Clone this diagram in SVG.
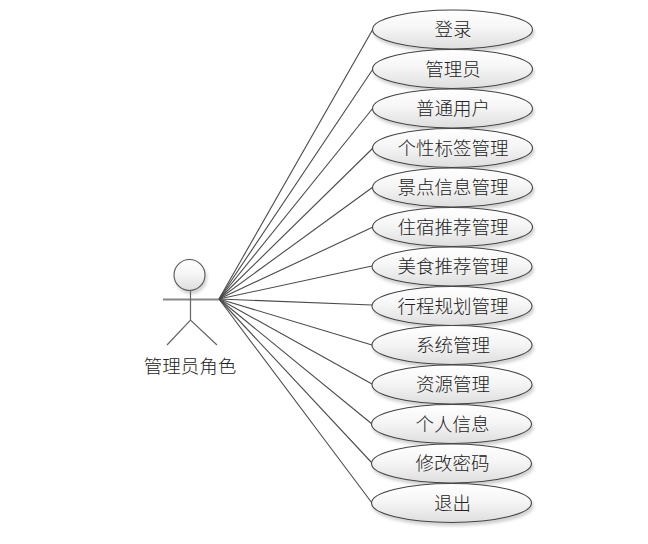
<svg xmlns="http://www.w3.org/2000/svg" width="648" height="544" viewBox="0 0 648 544">
<defs>
<linearGradient id="g" x1="0" y1="0" x2="0" y2="1"><stop offset="0" stop-color="#ffffff"/><stop offset="0.45" stop-color="#f6f6f6"/><stop offset="1" stop-color="#dedede"/></linearGradient>
<filter id="s" x="-10%" y="-20%" width="120%" height="150%"><feDropShadow dx="1.5" dy="3" stdDeviation="1.5" flood-color="#000" flood-opacity="0.18"/></filter>
</defs>
<style>
text{font-family:"Noto Sans CJK SC","Noto Sans CJK JP",sans-serif;font-size:18.5px;font-weight:300;fill:#222;text-anchor:middle}
.u ellipse{fill:url(#g);stroke:#444;stroke-width:1.1;filter:url(#s)}
#connectors line{stroke:#4a4a4a;stroke-width:1.1}
.a{fill:none;stroke:#666;stroke-width:1.2}
</style>
<rect width="648" height="544" fill="#fff"/>
<g id="connectors">
<line x1="219" y1="299" x2="373" y2="29"/>
<line x1="219" y1="299" x2="373" y2="69"/>
<line x1="219" y1="299" x2="373" y2="108"/>
<line x1="219" y1="299" x2="373" y2="148"/>
<line x1="219" y1="299" x2="373" y2="187"/>
<line x1="219" y1="299" x2="373" y2="227"/>
<line x1="219" y1="299" x2="372" y2="266"/>
<line x1="219" y1="299" x2="372" y2="305"/>
<line x1="219" y1="299" x2="372" y2="345"/>
<line x1="219" y1="299" x2="372" y2="384"/>
<line x1="219" y1="299" x2="372" y2="424"/>
<line x1="219" y1="299" x2="372" y2="463"/>
<line x1="219" y1="299" x2="372" y2="503"/>
</g>
<g id="actor">
<circle cx="189.500" cy="275" r="15.500" fill="url(#g)" stroke="#555" stroke-width="1.100" filter="url(#s)"/>
<line x1="163" y1="299.500" x2="219" y2="299.500" stroke="#888" stroke-width="1.800"/>
<path class="a" d="M190.500 291V320M167 345L190.500 320L217 345"/>
<text x="190" y="373">管理员角色</text>
</g>
<g id="n1" class="u"><ellipse cx="452.500" cy="29.500" rx="80" ry="19.500"/><text x="453" y="36">登录</text></g>
<g id="n2" class="u"><ellipse cx="452.500" cy="69" rx="80" ry="19.500"/><text x="453" y="75.500">管理员</text></g>
<g id="n3" class="u"><ellipse cx="452.500" cy="108.500" rx="80" ry="19.500"/><text x="453" y="115">普通用户</text></g>
<g id="n4" class="u"><ellipse cx="452.500" cy="148" rx="80" ry="19.500"/><text x="453" y="154.500">个性标签管理</text></g>
<g id="n5" class="u"><ellipse cx="452.500" cy="187.500" rx="80" ry="19.500"/><text x="453" y="194">景点信息管理</text></g>
<g id="n6" class="u"><ellipse cx="452.500" cy="227" rx="80" ry="19.500"/><text x="453" y="233.500">住宿推荐管理</text></g>
<g id="n7" class="u"><ellipse cx="452" cy="266.500" rx="80" ry="19.500"/><text x="453" y="273">美食推荐管理</text></g>
<g id="n8" class="u"><ellipse cx="452" cy="306" rx="80" ry="19.500"/><text x="453" y="312.500">行程规划管理</text></g>
<g id="n9" class="u"><ellipse cx="452" cy="345" rx="80" ry="19.500"/><text x="453" y="351.500">系统管理</text></g>
<g id="n10" class="u"><ellipse cx="452" cy="384.500" rx="80" ry="19.500"/><text x="453" y="391">资源管理</text></g>
<g id="n11" class="u"><ellipse cx="451.500" cy="424" rx="80" ry="19.500"/><text x="452.500" y="430.500">个人信息</text></g>
<g id="n12" class="u"><ellipse cx="451.500" cy="463.500" rx="80" ry="19.500"/><text x="452.500" y="470">修改密码</text></g>
<g id="n13" class="u"><ellipse cx="451.500" cy="503" rx="80" ry="19.500"/><text x="452.500" y="509.500">退出</text></g>
</svg>
